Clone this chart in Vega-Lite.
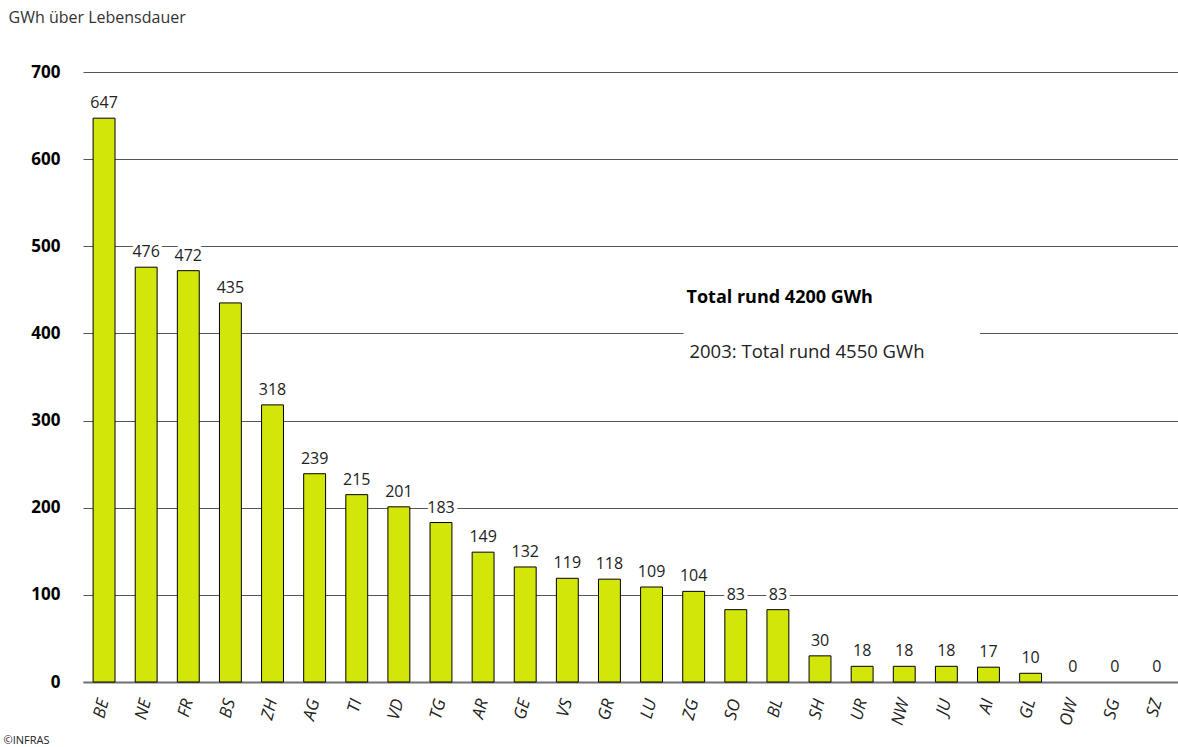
{
  "$schema": "https://vega.github.io/schema/vega-lite/v6.json",
  "autosize": {"type": "none"},
  "width": 1095,
  "height": 610,
  "padding": {"left": 83, "top": 72, "right": 0, "bottom": 65},
  "background": "white",
  "config": {
    "font": "Open Sans",
    "view": {"stroke": null}
  },
  "datasets": {
    "cantons": [
      {"kanton": "BE", "gwh": 647},
      {"kanton": "NE", "gwh": 476},
      {"kanton": "FR", "gwh": 472},
      {"kanton": "BS", "gwh": 435},
      {"kanton": "ZH", "gwh": 318},
      {"kanton": "AG", "gwh": 239},
      {"kanton": "TI", "gwh": 215},
      {"kanton": "VD", "gwh": 201},
      {"kanton": "TG", "gwh": 183},
      {"kanton": "AR", "gwh": 149},
      {"kanton": "GE", "gwh": 132},
      {"kanton": "VS", "gwh": 119},
      {"kanton": "GR", "gwh": 118},
      {"kanton": "LU", "gwh": 109},
      {"kanton": "ZG", "gwh": 104},
      {"kanton": "SO", "gwh": 83},
      {"kanton": "BL", "gwh": 83},
      {"kanton": "SH", "gwh": 30},
      {"kanton": "UR", "gwh": 18},
      {"kanton": "NW", "gwh": 18},
      {"kanton": "JU", "gwh": 18},
      {"kanton": "AI", "gwh": 17},
      {"kanton": "GL", "gwh": 10},
      {"kanton": "OW", "gwh": 0},
      {"kanton": "SG", "gwh": 0},
      {"kanton": "SZ", "gwh": 0}
    ],
    "box": [
      {"x1": 14.26, "x2": 21.3, "y1": 330, "y2": 480}
    ],
    "notes": [
      {"x": 14.33, "y": 441, "label": "Total rund 4200 GWh", "kind": "total"},
      {"x": 14.4, "y": 379, "label": "2003: Total rund 4550 GWh", "kind": "prev"}
    ]
  },
  "layer": [
    {
      "data": {"name": "cantons"},
      "layer": [
        {
          "transform": [{"filter": "datum.gwh > 0"}],
          "mark": {"type": "bar", "fill": "#d2e60a", "stroke": "#000000", "strokeWidth": 1},
          "encoding": {
            "x": {
              "field": "kanton", "type": "nominal", "sort": null,
              "scale": {"paddingInner": 0.48, "paddingOuter": 0.24},
              "axis": {
                "title": "©INFRAS",
                "titleFontSize": 11, "titleFontWeight": "normal", "titleColor": "#222",
                "titleAngle": 0, "titleAlign": "left", "titleBaseline": "middle",
                "titleX": -80, "titleY": 58,
                "labelAngle": -75, "labelFontSize": 17, "labelFontStyle": "italic",
                "labelColor": "#222", "labelPadding": 17,
                "ticks": false,
                "domain": true, "domainColor": "#707070", "domainWidth": 2,
                "grid": false
              }
            },
            "y": {
              "field": "gwh", "type": "quantitative",
              "scale": {"domain": [0, 700], "nice": false},
              "axis": {
                "values": [0, 100, 200, 300, 400, 500, 600, 700],
                "title": "GWh über Lebensdauer",
                "titleFontSize": 16, "titleFontWeight": "normal", "titleColor": "#333",
                "titleAngle": 0, "titleAlign": "left", "titleBaseline": "middle",
                "titleX": -75, "titleY": -55,
                "labelFontSize": 17, "labelFontWeight": "bold", "labelColor": "#000",
                "labelPadding": 23,
                "ticks": false, "domain": false,
                "grid": true, "gridColor": "#555555", "gridWidth": 1
              }
            }
          }
        },
        {
          "mark": {"type": "text", "baseline": "bottom", "dy": -7, "fontSize": 16, "stroke": "white", "strokeWidth": 7, "strokeJoin": "round", "fill": "white"},
          "encoding": {
            "x": {"field": "kanton", "type": "nominal", "sort": null},
            "y": {"field": "gwh", "type": "quantitative"},
            "text": {"field": "gwh", "type": "quantitative"}
          }
        },
        {
          "mark": {"type": "text", "baseline": "bottom", "dy": -7, "fontSize": 16, "fill": "#222"},
          "encoding": {
            "x": {"field": "kanton", "type": "nominal", "sort": null},
            "y": {"field": "gwh", "type": "quantitative"},
            "text": {"field": "gwh", "type": "quantitative"}
          }
        }
      ]
    },
    {
      "data": {"name": "box"},
      "mark": {"type": "rect", "fill": "white", "stroke": null},
      "encoding": {
        "x": {"field": "x1", "type": "quantitative", "scale": {"domain": [0, 26], "nice": false, "zero": false}, "axis": null},
        "x2": {"field": "x2"},
        "y": {"field": "y1", "type": "quantitative"},
        "y2": {"field": "y2"}
      }
    },
    {
      "data": {"name": "notes"},
      "transform": [{"filter": "datum.kind === 'total'"}],
      "mark": {"type": "text", "align": "left", "baseline": "middle", "fontSize": 18, "fontWeight": "bold", "fill": "#000"},
      "encoding": {
        "x": {"field": "x", "type": "quantitative", "scale": {"domain": [0, 26], "nice": false, "zero": false}, "axis": null},
        "y": {"field": "y", "type": "quantitative"},
        "text": {"field": "label"}
      }
    },
    {
      "data": {"name": "notes"},
      "transform": [{"filter": "datum.kind === 'prev'"}],
      "mark": {"type": "text", "align": "left", "baseline": "middle", "fontSize": 18.5, "fill": "#222"},
      "encoding": {
        "x": {"field": "x", "type": "quantitative", "scale": {"domain": [0, 26], "nice": false, "zero": false}, "axis": null},
        "y": {"field": "y", "type": "quantitative"},
        "text": {"field": "label"}
      }
    }
  ],
  "resolve": {"scale": {"x": "independent"}}
}
